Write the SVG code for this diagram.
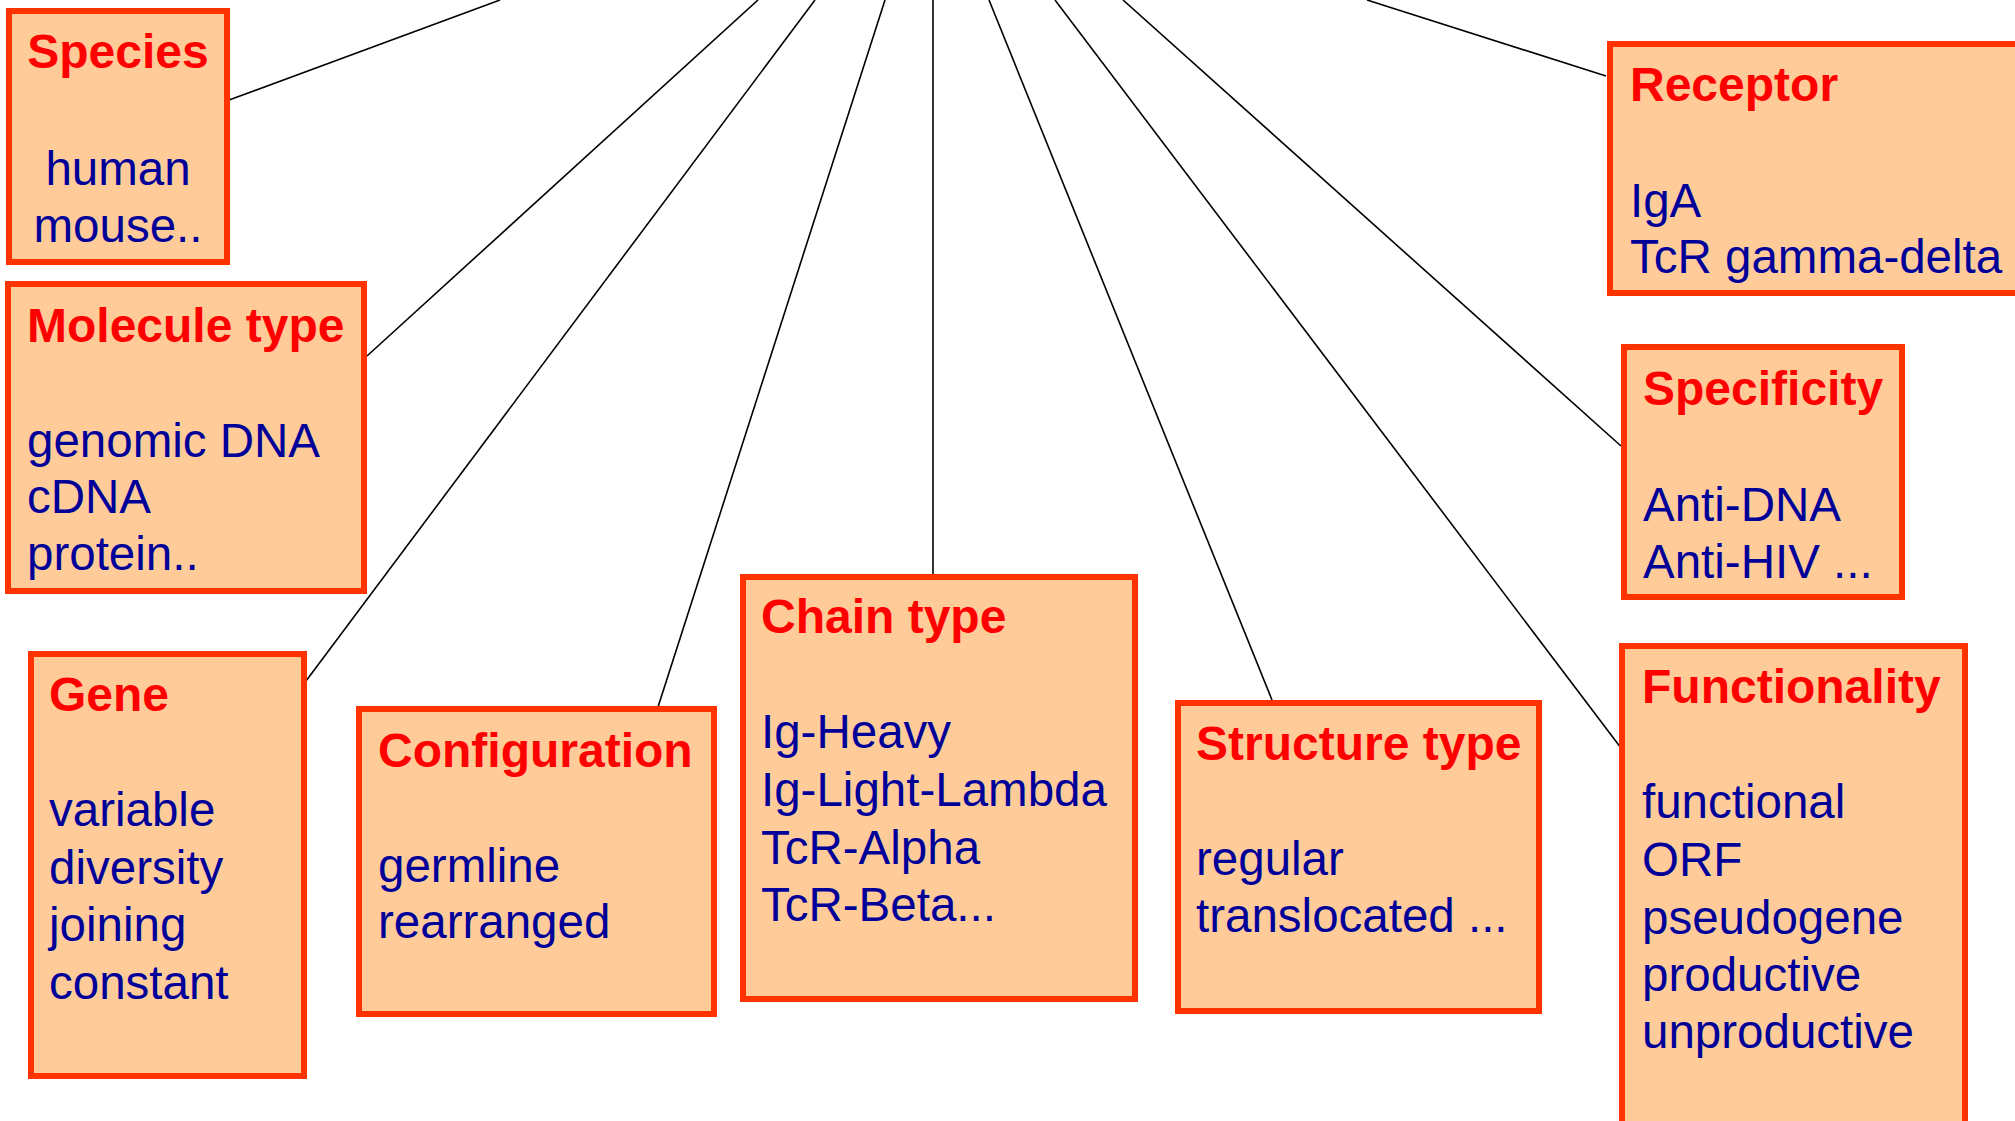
<svg xmlns="http://www.w3.org/2000/svg" width="2015" height="1121" viewBox="0 0 2015 1121">
<style>
.box{fill:#FFCC99;stroke:#FF3300;stroke-width:6}
.t{font-family:"Liberation Sans",Arial,sans-serif;font-weight:bold;font-size:48px;fill:#FF0000}
.b{font-family:"Liberation Sans",Arial,sans-serif;font-size:47.5px;fill:#000099}
.c line{stroke:#000;stroke-width:1.6}
</style>
<rect width="2015" height="1121" fill="#FFFFFF"/>
<g id="connectors" class="c">
<line x1="229" y1="100" x2="500" y2="0"/>
<line x1="367" y1="356" x2="758" y2="0"/>
<line x1="306" y1="681" x2="815" y2="0"/>
<line x1="658" y1="707" x2="885" y2="0"/>
<line x1="933" y1="577" x2="933" y2="0"/>
<line x1="1272" y1="700" x2="989" y2="0"/>
<line x1="1621" y1="748" x2="1055" y2="0"/>
<line x1="1621" y1="446" x2="1123" y2="0"/>
<line x1="1606" y1="76" x2="1367" y2="0"/>
</g>
<g id="species">
<rect class="box" x="9" y="11" width="218" height="251"/>
<text class="t" x="118" y="68" text-anchor="middle">Species</text>
<text class="b" x="118" y="185" text-anchor="middle">human</text>
<text class="b" x="118" y="242" text-anchor="middle">mouse..</text>
</g>
<g id="molecule-type">
<rect class="box" x="8" y="284" width="356" height="307"/>
<text class="t" x="27" y="342">Molecule type</text>
<text class="b" x="27" y="457">genomic DNA</text>
<text class="b" x="27" y="513">cDNA</text>
<text class="b" x="27" y="570">protein..</text>
</g>
<g id="gene">
<rect class="box" x="31" y="654" width="273" height="422"/>
<text class="t" x="49" y="711">Gene</text>
<text class="b" x="49" y="826">variable</text>
<text class="b" x="49" y="884">diversity</text>
<text class="b" x="49" y="941">joining</text>
<text class="b" x="49" y="999">constant</text>
</g>
<g id="configuration">
<rect class="box" x="359" y="709" width="355" height="305"/>
<text class="t" x="378" y="767">Configuration</text>
<text class="b" x="378" y="882">germline</text>
<text class="b" x="378" y="938">rearranged</text>
</g>
<g id="chain-type">
<rect class="box" x="743" y="577" width="392" height="422"/>
<text class="t" x="761" y="633">Chain type</text>
<text class="b" x="761" y="748">Ig-Heavy</text>
<text class="b" x="761" y="806">Ig-Light-Lambda</text>
<text class="b" x="761" y="864">TcR-Alpha</text>
<text class="b" x="761" y="921">TcR-Beta...</text>
</g>
<g id="structure-type">
<rect class="box" x="1178" y="703" width="361" height="308"/>
<text class="t" x="1196" y="760">Structure type</text>
<text class="b" x="1196" y="875">regular</text>
<text class="b" x="1196" y="932">translocated ...</text>
</g>
<g id="receptor">
<rect class="box" x="1610" y="44" width="420" height="249"/>
<text class="t" x="1630" y="101">Receptor</text>
<text class="b" x="1630" y="217">IgA</text>
<text class="b" x="1630" y="273">TcR gamma-delta</text>
</g>
<g id="specificity">
<rect class="box" x="1624" y="347" width="278" height="250"/>
<text class="t" x="1643" y="405">Specificity</text>
<text class="b" x="1643" y="521">Anti-DNA</text>
<text class="b" x="1643" y="578">Anti-HIV ...</text>
</g>
<g id="functionality">
<rect class="box" x="1622" y="646" width="343" height="500"/>
<text class="t" x="1642" y="703">Functionality</text>
<text class="b" x="1642" y="818">functional</text>
<text class="b" x="1642" y="876">ORF</text>
<text class="b" x="1642" y="934">pseudogene</text>
<text class="b" x="1642" y="991">productive</text>
<text class="b" x="1642" y="1048">unproductive</text>
</g>
</svg>
